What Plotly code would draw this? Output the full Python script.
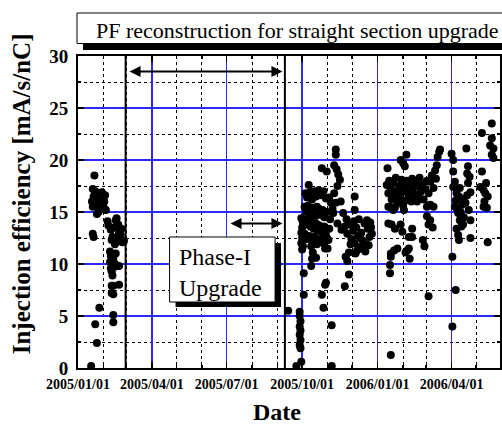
import plotly.graph_objects as go

# ---------------- data ----------------
seg1_dates = ["2005-01-17", "2005-01-19", "2005-01-20", "2005-01-19", "2005-01-18", "2005-01-20",
              "2005-01-19", "2005-01-21", "2005-01-22", "2005-01-23", "2005-01-24", "2005-01-25",
              "2005-01-26", "2005-01-27", "2005-01-28", "2005-01-29", "2005-01-30", "2005-01-31",
              "2005-02-01", "2005-02-02", "2005-02-03", "2005-02-04", "2005-01-24", "2005-01-26",
              "2005-01-27", "2005-01-22", "2005-01-24"]
seg1_vals = [0.2, 12.9, 12.6, 15.5, 16.0, 16.5,
             17.2, 18.5, 17.0, 16.2, 15.6, 16.8,
             16.0, 15.3, 16.4, 15.8, 16.9, 16.2,
             15.5, 16.0, 16.6, 15.2, 14.8, 15.0,
             5.8, 4.2, 2.4]

seg2_dates = ["2005-02-06", "2005-02-07", "2005-02-10", "2005-02-12", "2005-02-14", "2005-02-16",
              "2005-02-17", "2005-02-19", "2005-02-20", "2005-02-22", "2005-02-23", "2005-02-24",
              "2005-02-26", "2005-02-11", "2005-02-15", "2005-02-18",
              "2005-02-09", "2005-02-10", "2005-02-11", "2005-02-09", "2005-02-12", "2005-02-10",
              "2005-02-13", "2005-02-11", "2005-02-12", "2005-02-14", "2005-02-17", "2005-02-15",
              "2005-02-13", "2005-02-16", "2005-02-20",
              "2005-02-11", "2005-02-13", "2005-02-11", "2005-02-13", "2005-02-20",
              "2005-02-13", "2005-02-13"]
seg2_vals = [14.1, 13.7, 13.3, 12.6, 13.5, 14.2,
             14.4, 13.8, 13.0, 12.8, 13.4, 12.1,
             12.2, 12.3, 11.9, 12.4,
             11.2, 10.8, 10.5, 10.2, 9.9, 9.6,
             10.3, 9.3, 8.9, 9.7, 9.8, 10.0,
             10.6, 11.0, 9.8,
             7.9, 7.9, 7.2, 7.1, 8.0,
             5.1, 4.4]

seg3_dates = ["2005-09-14", "2005-09-28", "2005-09-28", "2005-09-29", "2005-09-28", "2005-09-29",
              "2005-09-28", "2005-09-29", "2005-09-28", "2005-09-29", "2005-09-30", "2005-09-24",
              "2005-09-30", "2005-10-01", "2005-09-30", "2005-10-01", "2005-09-30", "2005-10-02",
              "2005-10-01", "2005-10-02", "2005-10-03", "2005-10-03"]
seg3_vals = [5.5, 5.4, 5.0, 4.5, 4.0, 3.6,
             3.2, 2.7, 2.2, 1.9, 0.6, 0.2,
             14.4, 13.5, 13.0, 12.5, 12.0, 11.7,
             11.4, 14.0, 9.1, 7.05]

seg4_dates = ["2005-10-09", "2005-10-05", "2005-10-07", "2005-10-11", "2005-10-13", "2005-10-15",
              "2005-10-18", "2005-10-21", "2005-10-24", "2005-10-27", "2005-10-30",
              "2005-10-04", "2005-10-06", "2005-10-08", "2005-10-10", "2005-10-12", "2005-10-14",
              "2005-10-16", "2005-10-17", "2005-10-19", "2005-10-20", "2005-10-22", "2005-10-24",
              "2005-10-26", "2005-10-28", "2005-10-31",
              "2005-10-05", "2005-10-07", "2005-10-09", "2005-10-11", "2005-10-13", "2005-10-15",
              "2005-10-18", "2005-10-20", "2005-10-22", "2005-10-25", "2005-10-28", "2005-10-30",
              "2005-10-04", "2005-10-06", "2005-10-10", "2005-10-13", "2005-10-16", "2005-10-19",
              "2005-10-23", "2005-10-27", "2005-10-31",
              "2005-10-12", "2005-10-14", "2005-10-13", "2005-10-12", "2005-10-18", "2005-10-29",
              "2005-10-25", "2005-10-31", "2005-10-29", "2005-10-30", "2005-10-25", "2005-10-27",
              "2005-11-06", "2005-11-06"]
seg4_vals = [17.6, 16.8, 16.4, 16.9, 16.2, 17.0,
             16.5, 17.1, 16.6, 17.0, 16.3,
             15.5, 15.0, 15.6, 15.2, 14.8, 15.4,
             15.0, 14.6, 15.5, 14.9, 15.3, 14.7,
             15.2, 14.5, 15.0,
             14.2, 13.8, 14.4, 13.6, 14.0, 13.4,
             13.9, 13.2, 13.7, 13.1, 13.6, 12.8,
             12.9, 12.4, 12.7, 12.2, 12.6, 11.9,
             12.4, 12.0, 12.5,
             11.7, 11.1, 10.5, 9.8, 10.6, 11.5,
             19.2, 18.9, 8.0, 8.2, 7.05, 5.8,
             4.1, 0.2]

seg5_dates = ["2005-11-11", "2005-11-11", "2005-11-09", "2005-11-12", "2005-11-14", "2005-11-16",
              "2005-11-13", "2005-11-09", "2005-11-11", "2005-11-05", "2005-11-03", "2005-11-07",
              "2005-11-17", "2005-11-20", "2005-11-24", "2005-12-04", "2005-12-04",
              "2005-11-22", "2005-11-27", "2005-11-25", "2005-11-23", "2005-11-27",
              "2005-11-02", "2005-11-01", "2005-11-04", "2005-11-08", "2005-11-13", "2005-11-18",
              "2005-11-03"]
seg5_vals = [21.0, 20.5, 19.5, 19.1, 18.6, 18.1,
             17.5, 16.8, 15.9, 15.9, 16.4, 15.3,
             16.0, 14.9, 14.3, 16.5, 15.2,
             7.85, 9.0, 10.3, 10.7, 11.1,
             12.3, 11.5, 14.3, 14.9, 13.9, 13.3,
             13.4]

seg6_dates = ["2005-11-22", "2005-11-25", "2005-11-28", "2005-11-30", "2005-12-02", "2005-12-04",
              "2005-12-06", "2005-12-08", "2005-12-10", "2005-12-12", "2005-12-14", "2005-12-16",
              "2005-12-18", "2005-12-20", "2005-12-22", "2005-12-24", "2005-12-25", "2005-12-19",
              "2005-12-23", "2005-12-07", "2005-12-05", "2005-12-13", "2005-12-17", "2005-12-21",
              "2005-12-11", "2005-12-03", "2005-11-29", "2005-12-09"]
seg6_vals = [13.6, 12.9, 13.8, 12.4, 13.2, 12.0,
             13.5, 12.7, 11.6, 13.0, 12.2, 13.9,
             11.9, 13.4, 12.6, 13.5, 12.9, 14.2,
             14.0, 11.3, 11.0, 11.5, 11.2, 11.8,
             12.5, 14.1, 11.9, 14.3]

seg7_dates = ["2006-01-12", "2006-01-14", "2006-01-15", "2006-01-17", "2006-01-18", "2006-01-20",
              "2006-01-21", "2006-01-23", "2006-01-24", "2006-01-25", "2006-01-27", "2006-01-28",
              "2006-01-30", "2006-01-31", "2006-02-01", "2006-02-02", "2006-02-04", "2006-02-05",
              "2006-02-06", "2006-02-08", "2006-02-09", "2006-02-11", "2006-02-12", "2006-02-13",
              "2006-02-15", "2006-02-16", "2006-02-18", "2006-02-19", "2006-02-21", "2006-02-22",
              "2006-02-24", "2006-02-26", "2006-02-28", "2006-03-02", "2006-03-04", "2006-03-06",
              "2006-03-08", "2006-03-10", "2006-03-12", "2006-03-13",
              "2006-01-13", "2006-01-14", "2006-01-14", "2006-01-16", "2006-01-29", "2006-02-05",
              "2006-02-01", "2006-02-03", "2006-01-18", "2006-01-22", "2006-01-29", "2006-01-31",
              "2006-02-12", "2006-02-12", "2006-02-08", "2006-01-16", "2006-01-16", "2006-01-17",
              "2006-01-21", "2006-01-25", "2006-01-17", "2006-02-06", "2006-02-08", "2006-02-09",
              "2006-02-04", "2006-01-17", "2006-03-17", "2006-03-18", "2006-03-15", "2006-03-14",
              "2006-03-02", "2006-03-06", "2006-03-10", "2006-03-02", "2006-03-06", "2006-03-04",
              "2006-03-09", "2006-02-25", "2006-02-27", "2006-03-04",
              "2006-01-20", "2006-01-22", "2006-02-02", "2006-02-18"]
seg7_vals = [17.6, 16.8, 18.0, 17.2, 16.2, 17.8,
             16.6, 18.3, 17.0, 15.9, 17.5, 16.3,
             18.1, 16.9, 15.6, 17.4, 16.1, 18.0,
             17.0, 16.5, 17.7, 16.0, 18.2, 17.3,
             16.7, 17.9, 16.4, 17.5, 18.3, 16.9,
             17.6, 16.2, 17.2, 18.0, 16.8, 17.9,
             18.5, 17.3, 19.0, 18.2,
             19.2, 15.5, 13.9, 15.5, 20.0, 20.5,
             19.7, 19.4, 13.8, 13.4, 13.8, 13.1,
             13.4, 12.6, 12.6, 9.1, 9.9, 11.0,
             11.3, 11.5, 10.7, 11.3, 11.5, 10.5,
             11.1, 1.25, 20.8, 21.0, 20.3, 19.5,
             15.5, 15.7, 15.5, 14.6, 14.2, 13.8,
             13.5, 12.3, 11.7, 6.9,
             15.2, 15.4, 15.2, 16.0]

seg8_dates = ["2006-04-01", "2006-04-03", "2006-04-03", "2006-04-05", "2006-04-03", "2006-04-07",
              "2006-04-05", "2006-04-09", "2006-04-11", "2006-04-13", "2006-04-15", "2006-04-09",
              "2006-04-10", "2006-04-07", "2006-04-06", "2006-04-08", "2006-04-10", "2006-04-12",
              "2006-04-14", "2006-04-16", "2006-04-18", "2006-04-20", "2006-04-22", "2006-04-24",
              "2006-04-11", "2006-04-15", "2006-04-13", "2006-04-02", "2006-04-06", "2006-04-02",
              "2006-04-19", "2006-04-21", "2006-04-20", "2006-04-23", "2006-04-21", "2006-04-24",
              "2006-04-24"]
seg8_vals = [20.6, 20.0, 18.9, 17.9, 17.4, 16.8,
             15.5, 14.9, 14.2, 13.6, 13.8, 12.8,
             12.3, 13.4, 16.1, 15.3, 16.5, 15.0,
             15.7, 14.5, 15.9, 16.6, 15.2, 16.9,
             17.3, 16.2, 14.6, 10.7, 7.5, 4.0,
             21.1, 19.4, 18.7, 18.4, 17.8, 14.2,
             12.5]

seg9_dates = ["2006-05-08", "2006-05-20", "2006-05-20", "2006-05-18", "2006-05-22", "2006-05-20",
              "2006-05-22", "2006-05-08", "2006-05-06", "2006-05-10", "2006-05-13", "2006-05-15",
              "2006-05-11", "2006-05-10", "2006-05-14", "2006-05-15", "2006-05-12"]
seg9_vals = [22.6, 23.5, 22.1, 21.4, 21.1, 20.5,
             20.2, 18.9, 17.4, 17.1, 17.8, 16.5,
             16.0, 15.5, 15.4, 12.1, 16.8]

phase_bounds = ["2005-02-28", "2005-09-10"]
arrow_top = {"start": "2005-03-03", "end": "2005-09-07", "y": 28.5}
arrow_mid = {"start": "2005-07-04", "end": "2005-09-07", "y": 13.9}

x_range = ["2005-01-01", "2006-05-30"]
y_range = [0, 30]

dates = (seg1_dates + seg2_dates + seg3_dates + seg4_dates + seg5_dates +
         seg6_dates + seg7_dates + seg8_dates + seg9_dates)
vals = (seg1_vals + seg2_vals + seg3_vals + seg4_vals + seg5_vals +
        seg6_vals + seg7_vals + seg8_vals + seg9_vals)

# ---------------- layout geometry (pixels) ----------------
W, H = 502, 425
ML, MR, MT, MB = 78, 0, 56, 57
PW, PH = W - ML - MR, H - MT - MB


def px(xp):
    return (xp - ML) / PW


def py(yp):
    return (H - MB - yp) / PH


SERIF = "Liberation Serif, Times New Roman, serif"

fig = go.Figure()
fig.add_trace(go.Scatter(x=dates, y=vals, mode="markers",
                         marker=dict(color="black", size=8, line=dict(width=0)),
                         showlegend=False, cliponaxis=True))

shapes = []
for d in phase_bounds:
    shapes.append(dict(type="line", xref="x", yref="paper", x0=d, x1=d, y0=0, y1=1,
                       line=dict(color="black", width=2)))

# title box with shadow
shapes.append(dict(type="rect", xref="paper", yref="paper", x0=px(83), x1=px(530),
                   y0=py(50), y1=py(19), fillcolor="black", line=dict(width=0), layer="above"))
shapes.append(dict(type="rect", xref="paper", yref="paper", x0=px(77), x1=px(525),
                   y0=py(43.5), y1=py(13), fillcolor="white",
                   line=dict(color="black", width=1), layer="above"))
# Phase-I box with shadow
shapes.append(dict(type="rect", xref="paper", yref="paper", x0=px(176), x1=px(282),
                   y0=py(307), y1=py(243), fillcolor="black", line=dict(width=0), layer="above"))
shapes.append(dict(type="rect", xref="paper", yref="paper", x0=px(170), x1=px(276),
                   y0=py(302), y1=py(237), fillcolor="white",
                   line=dict(color="black", width=1), layer="above"))

annotations = [
    dict(text="PF reconstruction for straight section upgrade", xref="paper", yref="paper",
         x=px(94), y=py(30), xanchor="left", yanchor="middle", showarrow=False,
         font=dict(family=SERIF, size=22, color="black")),
    dict(text="Phase-I<br>Upgrade", xref="paper", yref="paper", align="left",
         x=px(177), y=py(272), xanchor="left", yanchor="middle", showarrow=False,
         font=dict(family=SERIF, size=24, color="black")),
    dict(text="Injection efficiency [mA/s/nC]", xref="paper", yref="paper",
         x=px(21), y=py(194), xanchor="center", yanchor="middle", textangle=-90,
         showarrow=False, font=dict(family=SERIF, size=25, color="black", weight="bold")),
    dict(text="Date", xref="paper", yref="paper", x=px(278), y=py(412),
         xanchor="center", yanchor="middle", showarrow=False,
         font=dict(family=SERIF, size=24, color="black", weight="bold")),
]
for a in (arrow_top, arrow_mid):
    annotations.append(dict(x=a["end"], y=a["y"], ax=a["start"], ay=a["y"],
                            xref="x", yref="y", axref="x", ayref="y", text="",
                            showarrow=True, arrowside="end+start", arrowhead=2,
                            arrowsize=1.1, arrowwidth=2, arrowcolor="black"))

fig.update_layout(
    width=W, height=H, margin=dict(l=ML, r=MR, t=MT, b=MB, pad=0),
    paper_bgcolor="white", plot_bgcolor="white",
    shapes=shapes, annotations=annotations,
    xaxis=dict(type="date", range=x_range, dtick="M3", tick0="2005-01-01",
               tickformat="%Y/%m/%d", showgrid=True, gridcolor="#2a2aff", gridwidth=1.3,
               ticks="inside", ticklen=6, tickwidth=1.5, tickcolor="black",
               showline=True, linecolor="black", linewidth=2, mirror="ticks",
               ticklabelstandoff=2,
               tickfont=dict(family=SERIF, size=14, color="black", weight="bold"),
               zeroline=False,
               minor=dict(dtick="M1", tick0="2005-01-01", showgrid=True, gridcolor="black",
                          gridwidth=1, griddash="dot", ticks="inside", ticklen=3,
                          tickcolor="black")),
    yaxis=dict(range=y_range, dtick=5, tick0=0, showgrid=True, gridcolor="#2a2aff",
               gridwidth=1.3, ticks="inside", ticklen=6, tickwidth=1.5, tickcolor="black",
               showline=True, linecolor="black", linewidth=2, mirror="ticks",
               ticklabelstandoff=4, zeroline=False,
               tickfont=dict(family=SERIF, size=19, color="black", weight="bold"),
               minor=dict(dtick=2.5, showgrid=True, gridcolor="black", gridwidth=1,
                          griddash="dot", ticks="inside", ticklen=3, tickcolor="black")),
)

fig.write_html("out.html",
               config={"displayModeBar": False, "staticPlot": True},
               post_script="document.body.style.margin='0';"
                           "document.body.style.overflow='hidden';")
